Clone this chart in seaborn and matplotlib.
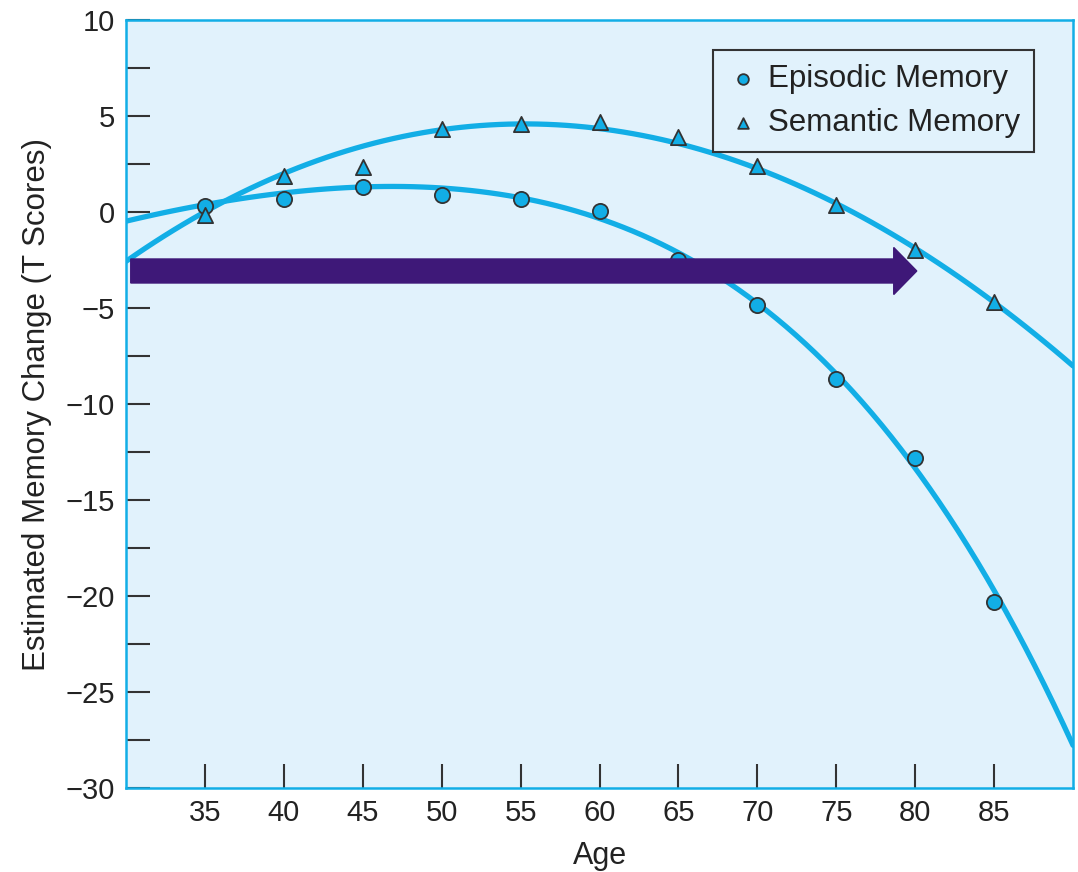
import numpy as np
import seaborn as sns
import matplotlib.pyplot as plt
from matplotlib.ticker import MultipleLocator

# data
ages = [35, 40, 45, 50, 55, 60, 65, 70, 75, 80, 85]
episodic = [0.3, 0.7, 1.3, 0.9, 0.7, 0.05, -2.5, -4.85, -8.7, -12.8, -20.3]
semantic = [-0.15, 1.9, 2.35, 4.3, 4.6, 4.7, 3.9, 2.4, 0.35, -2.0, -4.7]

# fitted curves, read at 5-year steps
curve_ages = [30, 35, 40, 45, 50, 55, 60, 65, 70, 75, 80, 85, 90]
episodic_curve = [-0.42, 0.31, 0.94, 1.35, 1.25, 0.8, -0.15, -2.3, -4.85, -8.6, -13.0, -19.8, -27.8]
semantic_curve = [-2.5, 0.0, 1.93, 3.4, 4.2, 4.6, 4.4, 3.8, 2.4, 0.2, -2.0, -4.75, -7.9]

# arrow (start age, end age, level)
arrow_start, arrow_end, arrow_level = 30.3, 80.1, -3.07

sns.set_style("ticks")
plt.rcParams['font.family'] = ['Liberation Sans', 'DejaVu Sans']

blue = "#12aee6"
bg = "#e1f2fc"
dark = "#333333"

fig = plt.figure(figsize=(10.78, 8.72), dpi=100)
ax = fig.add_axes([0.1169, 0.0963, 0.8785, 0.8807])
ax.set_facecolor(bg)

sns.regplot(x=curve_ages, y=episodic_curve, order=4, scatter=False, ci=None,
            truncate=True, color=blue, line_kws=dict(lw=3.8, zorder=2), ax=ax)
sns.regplot(x=curve_ages, y=semantic_curve, order=3, scatter=False, ci=None,
            truncate=True, color=blue, line_kws=dict(lw=3.8, zorder=2), ax=ax)

sns.scatterplot(x=ages, y=episodic, marker='o', s=120, color=blue, edgecolor=dark,
                linewidth=1.3, label='Episodic Memory', zorder=3, ax=ax)
sns.scatterplot(x=ages, y=semantic, marker='^', s=120, color=blue, edgecolor=dark,
                linewidth=1.3, label='Semantic Memory', zorder=3, ax=ax)

ax.arrow(arrow_start, arrow_level, arrow_end - arrow_start, 0, width=1.25,
         head_width=2.45, head_length=1.46, length_includes_head=True,
         color="#3e1878", zorder=5)

ax.set_xlim(30, 90)
ax.set_ylim(-30, 10)
ax.set_xticks(ages)
ax.yaxis.set_major_locator(MultipleLocator(5))
ax.yaxis.set_minor_locator(MultipleLocator(2.5))
ax.tick_params(axis='both', which='both', direction='in', length=17, width=1.5,
               color=dark, labelsize=21, labelcolor='#222222', pad=8)

for s in ax.spines.values():
    s.set_color(blue)
    s.set_linewidth(1.8)
    s.set_visible(True)

ax.set_xlabel("Age", fontsize=22, color='#222222', labelpad=10)
ax.set_ylabel("Estimated Memory Change (T Scores)", fontsize=22.5, color='#222222', labelpad=10)

leg = ax.legend(loc='upper right', bbox_to_anchor=(0.959, 0.961), fontsize=22.5,
                frameon=True, fancybox=False, framealpha=1, markerscale=0.7,
                handletextpad=0.3, borderpad=0.45, labelspacing=0.45,
                handlelength=1.0, borderaxespad=0)
leg.get_frame().set_edgecolor(dark)
leg.get_frame().set_facecolor(bg)
leg.get_frame().set_linewidth(1.5)
for t in leg.get_texts():
    t.set_color('#222222')

fig.savefig("out.png", dpi=100)
